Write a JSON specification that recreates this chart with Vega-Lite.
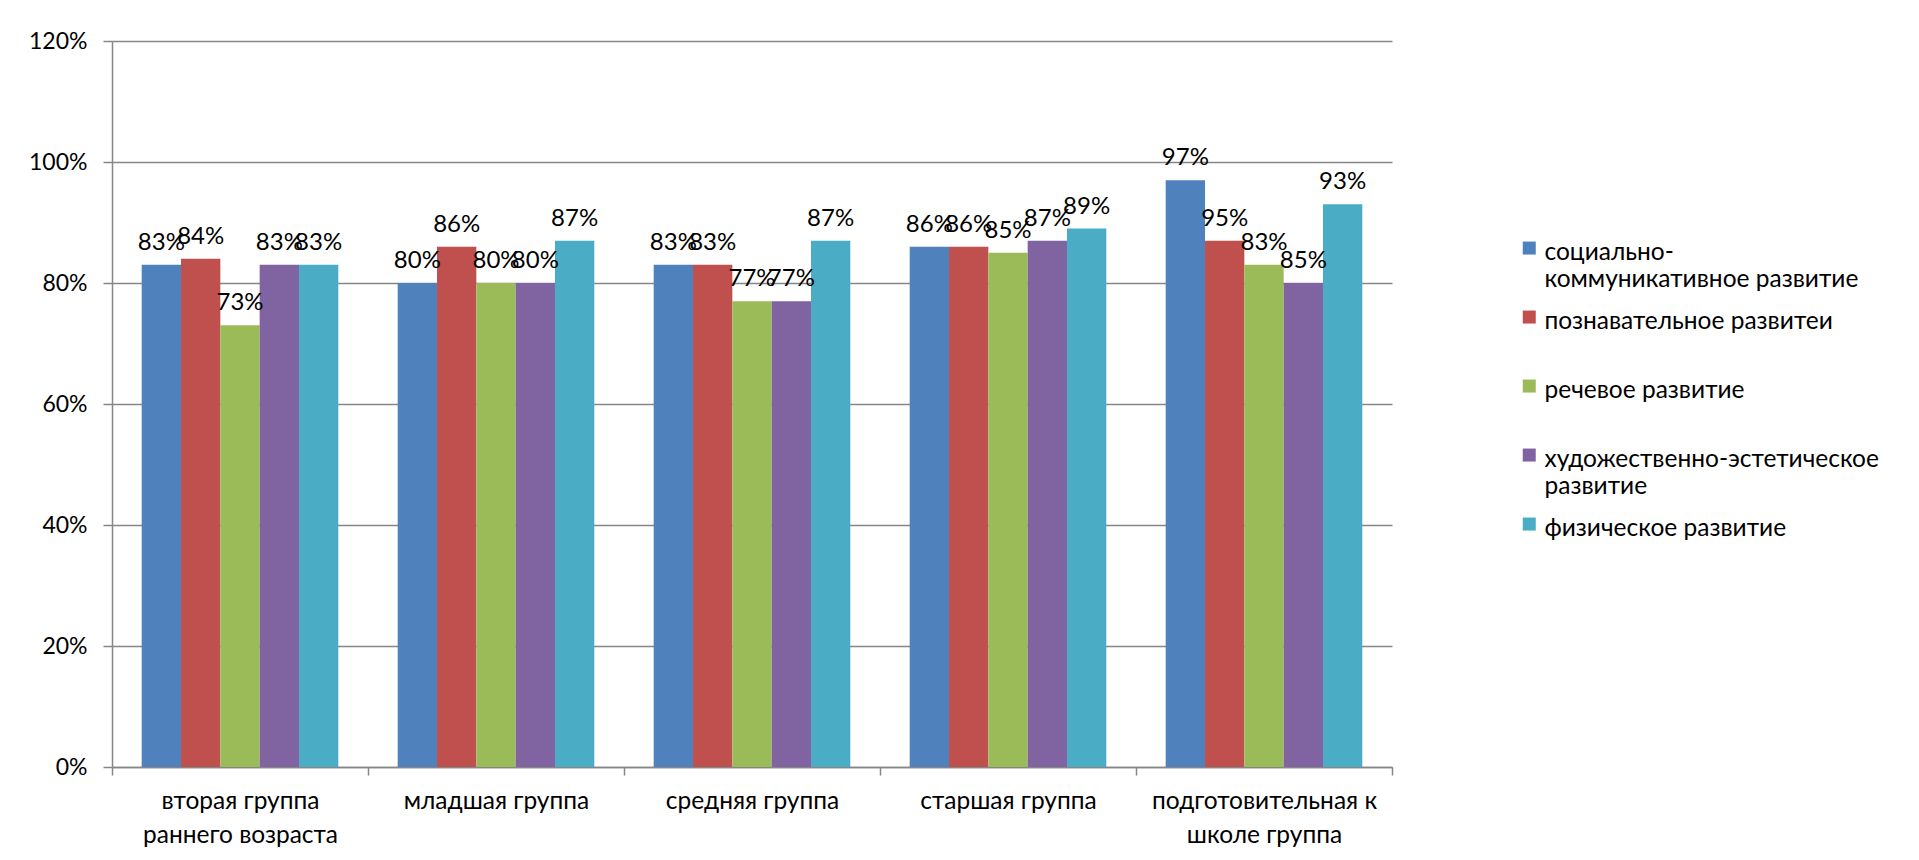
{
  "$schema": "https://vega.github.io/schema/vega-lite/v6.json",
  "autosize": {"type": "none"},
  "padding": {"left": 112, "top": 41, "right": 527, "bottom": 93},
  "width": 1280,
  "height": 726,
  "background": "white",
  "config": {
    "view": {"stroke": null},
    "font": "Lato",
    "text": {"font": "Lato"}
  },
  "data": {
    "values": [
      {"group": "вторая группа раннего возраста", "series": "социально-коммуникативное развитие", "value": 0.83, "label": "83%"},
      {"group": "вторая группа раннего возраста", "series": "познавательное развитеи", "value": 0.84, "label": "84%"},
      {"group": "вторая группа раннего возраста", "series": "речевое развитие", "value": 0.73, "label": "73%"},
      {"group": "вторая группа раннего возраста", "series": "художественно-эстетическое развитие", "value": 0.83, "label": "83%"},
      {"group": "вторая группа раннего возраста", "series": "физическое развитие", "value": 0.83, "label": "83%"},
      {"group": "младшая группа", "series": "социально-коммуникативное развитие", "value": 0.80, "label": "80%"},
      {"group": "младшая группа", "series": "познавательное развитеи", "value": 0.86, "label": "86%"},
      {"group": "младшая группа", "series": "речевое развитие", "value": 0.80, "label": "80%"},
      {"group": "младшая группа", "series": "художественно-эстетическое развитие", "value": 0.80, "label": "80%"},
      {"group": "младшая группа", "series": "физическое развитие", "value": 0.87, "label": "87%"},
      {"group": "средняя группа", "series": "социально-коммуникативное развитие", "value": 0.83, "label": "83%"},
      {"group": "средняя группа", "series": "познавательное развитеи", "value": 0.83, "label": "83%"},
      {"group": "средняя группа", "series": "речевое развитие", "value": 0.77, "label": "77%"},
      {"group": "средняя группа", "series": "художественно-эстетическое развитие", "value": 0.77, "label": "77%"},
      {"group": "средняя группа", "series": "физическое развитие", "value": 0.87, "label": "87%"},
      {"group": "старшая группа", "series": "социально-коммуникативное развитие", "value": 0.86, "label": "86%"},
      {"group": "старшая группа", "series": "познавательное развитеи", "value": 0.86, "label": "86%"},
      {"group": "старшая группа", "series": "речевое развитие", "value": 0.85, "label": "85%"},
      {"group": "старшая группа", "series": "художественно-эстетическое развитие", "value": 0.87, "label": "87%"},
      {"group": "старшая группа", "series": "физическое развитие", "value": 0.89, "label": "89%"},
      {"group": "подготовительная к школе группа", "series": "социально-коммуникативное развитие", "value": 0.97, "label": "97%"},
      {"group": "подготовительная к школе группа", "series": "познавательное развитеи", "value": 0.87, "label": "95%"},
      {"group": "подготовительная к школе группа", "series": "речевое развитие", "value": 0.83, "label": "83%"},
      {"group": "подготовительная к школе группа", "series": "художественно-эстетическое развитие", "value": 0.80, "label": "85%"},
      {"group": "подготовительная к школе группа", "series": "физическое развитие", "value": 0.93, "label": "93%"}
    ]
  },
  "encoding": {
    "x": {
      "field": "group",
      "type": "nominal",
      "sort": ["вторая группа раннего возраста", "младшая группа", "средняя группа", "старшая группа", "подготовительная к школе группа"],
      "scale": {"paddingInner": 0, "paddingOuter": 0},
      "axis": {
        "title": null,
        "labelAngle": 0,
        "tickBand": "extent",
        "grid": false,
        "domainColor": "#868686",
        "domainWidth": 1.5,
        "tickColor": "#868686",
        "tickWidth": 1.5,
        "tickSize": 8,
        "labelPadding": 14,
        "labelFont": "Lato",
        "labelFontSize": 24.5,
        "labelColor": "#000000",
        "labelLineHeight": 34,
        "labelBaseline": "top",
        "labelLimit": 400,
        "labelExpr": "datum.value == 'вторая группа раннего возраста' ? ['вторая группа', 'раннего возраста'] : datum.value == 'подготовительная к школе группа' ? ['подготовительная к', 'школе группа'] : datum.value"
      }
    },
    "xOffset": {
      "field": "series",
      "type": "nominal",
      "sort": ["социально-коммуникативное развитие", "познавательное развитеи", "речевое развитие", "художественно-эстетическое развитие", "физическое развитие"],
      "scale": {"paddingInner": 0, "paddingOuter": 0.755}
    }
  },
  "layer": [
    {
      "mark": {"type": "bar"},
      "encoding": {
        "y": {
          "field": "value",
          "type": "quantitative",
          "scale": {"domain": [0, 1.2], "nice": false},
          "axis": {
            "title": null,
            "values": [0, 0.2, 0.4, 0.6, 0.8, 1.0, 1.2],
            "format": ".0%",
            "grid": true,
            "gridColor": "#868686",
            "gridWidth": 1.5,
            "domainColor": "#868686",
            "domainWidth": 1.5,
            "tickColor": "#868686",
            "tickWidth": 1.5,
            "tickSize": 9,
            "labelPadding": 16,
            "labelFont": "Lato",
            "labelFontSize": 23,
            "labelColor": "#000000"
          }
        },
        "color": {
          "field": "series",
          "type": "nominal",
          "sort": ["социально-коммуникативное развитие", "познавательное развитеи", "речевое развитие", "художественно-эстетическое развитие", "физическое развитие"],
          "scale": {
            "domain": ["социально-коммуникативное развитие", "познавательное развитеи", "речевое развитие", "художественно-эстетическое развитие", "физическое развитие"],
            "range": ["#4F81BD", "#C0504D", "#9BBB59", "#8064A2", "#4BACC6"]
          },
          "legend": {
            "title": null,
            "orient": "none",
            "legendX": 1405,
            "legendY": 200,
            "symbolType": "M-1,-1.8H1V0.2H-1Z",
            "symbolSize": 169,
            "symbolStrokeWidth": 0,
            "labelFont": "Lato",
            "labelFontSize": 24.5,
            "labelColor": "#000000",
            "labelOffset": 3,
            "labelLimit": 400,
            "labelBaseline": "middle",
            "labelLineHeight": 30,
            "rowPadding": 17,
            "labelExpr": "datum.label == 'социально-коммуникативное развитие' ? ['социально-', 'коммуникативное развитие'] : datum.label == 'художественно-эстетическое развитие' ? ['художественно-эстетическое', 'развитие'] : [datum.label, '']"
          }
        }
      }
    },
    {
      "mark": {"type": "text", "baseline": "bottom", "dy": -10, "fontSize": 24, "font": "Lato", "color": "#000000"},
      "encoding": {
        "y": {"field": "value", "type": "quantitative"},
        "text": {"field": "label"}
      }
    }
  ]
}
